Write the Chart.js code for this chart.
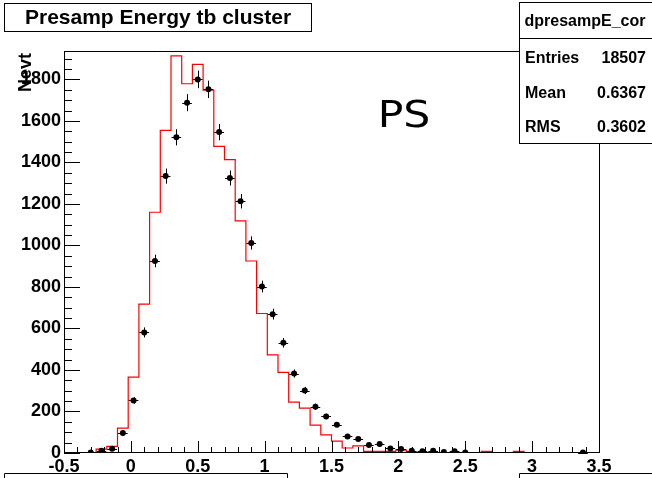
<!DOCTYPE html>
<html>
<head>
<meta charset="utf-8">
<script src="https://cdn.jsdelivr.net/npm/chart.js@4.4.0/dist/chart.umd.min.js"></script>
<style>
  html, body { margin: 0; padding: 0; background: #fff; }
  #wrap { width: 652px; height: 478px; position: relative; }
</style>
</head>
<body>
<div id="wrap"><canvas id="myChart" width="652" height="478"></canvas></div>
<script>
// binning: 50 bins from -0.5 to 3.5
const xMin = -0.5;
const xMax = 3.5;
const binWidth = 0.08;

// red histogram (simulation), one value per bin
const simCounts = [
  0, 0, 0, 19, 32, 120, 366, 717, 1160, 1554,
  1913, 1779, 1872, 1748, 1477, 1413, 1118, 925, 672, 473,
  388, 245, 216, 134, 87, 57, 24, 34, 8, 8,
  8, 14, 3, 2, 2, 2, 2, 2, 2, 8,
  2, 2, 8, 1, 1, 1, 1, 1, 1, 1
];

// black points (data), null = empty bin
const dataCounts = [
  null, null, 3, 11, 21, 96, 253, 581, 925, 1334,
  1521, 1688, 1800, 1752, 1546, 1325, 1213, 1012, 802, 669,
  531, 383, 301, 223, 176, 136, 80, 67, 38, 43,
  22, 19, 11, 8, 11, 5, 8, 3, null, null,
  null, null, null, null, null, null, null, null, 2, null
];

const yMax = 1932;
const xTickStep = 0.5;
const yTickStep = 200;

const titleText = "Presamp Energy tb cluster";
const statsName = "dpresampE_cor";
const statsRows = [["Entries", "18507"], ["Mean", "0.6367"], ["RMS", "0.3602"]];

const boldFont = "bold 18px 'Liberation Sans', Arial, sans-serif";

// build the step line from bin edges
let simLine = [];
for (let i = 0; i < simCounts.length; i++) {
  simLine.push({ x: xMin + i * binWidth, y: simCounts[i] });
}
simLine.push({ x: xMax, y: simCounts[simCounts.length - 1] });

let dataPoints = [];
for (let i = 0; i < dataCounts.length; i++) {
  if (dataCounts[i] !== null) {
    dataPoints.push({ x: xMin + (i + 0.5) * binWidth, y: dataCounts[i] });
  }
}

const rootDecor = {
  id: "rootDecor",
  afterDatasetDraw(chart, args) {
    // error bars, drawn after the red histogram and before the markers
    if (args.index !== 1) return;
    const c = chart.ctx;
    const xs = chart.scales.x;
    const ys = chart.scales.y;
    c.save();
    c.strokeStyle = "#000";
    c.lineWidth = 1;
    dataPoints.forEach((p) => {
      const err = Math.sqrt(p.y);
      const px = xs.getPixelForValue(p.x);
      const py = ys.getPixelForValue(p.y);
      c.beginPath();
      c.moveTo(Math.round(px) + 0.5, ys.getPixelForValue(p.y + err));
      c.lineTo(Math.round(px) + 0.5, Math.min(ys.getPixelForValue(Math.max(p.y - err, 0)), ys.bottom));
      c.moveTo(xs.getPixelForValue(p.x - binWidth * 0.45), Math.round(py) + 0.5);
      c.lineTo(xs.getPixelForValue(p.x + binWidth * 0.45), Math.round(py) + 0.5);
      c.stroke();
    });
    c.restore();
  },
  afterDraw(chart) {
    const c = chart.ctx;
    const a = chart.chartArea;
    const xs = chart.scales.x;
    const ys = chart.scales.y;
    c.save();

    // frame
    c.strokeStyle = "#000";
    c.lineWidth = 1;
    c.strokeRect(Math.round(a.left) + 0.5, Math.round(a.top) - 0.5, Math.round(a.right - a.left), Math.round(a.bottom - a.top));

    // ticks inside the frame
    c.beginPath();
    for (let v = xMin; v <= xMax + 1e-9; v += 0.1) {
      const px = Math.round(xs.getPixelForValue(v)) + 0.5;
      const major = Math.abs(v / xTickStep - Math.round(v / xTickStep)) < 1e-6;
      c.moveTo(px, a.bottom);
      c.lineTo(px, a.bottom - (major ? 12 : 6));
    }
    for (let v = 0; v <= yMax; v += 50) {
      const py = Math.round(ys.getPixelForValue(v)) + 0.5;
      const major = v % yTickStep === 0;
      c.moveTo(a.left, py);
      c.lineTo(a.left + (major ? 16 : 8), py);
    }
    c.stroke();

    // title box
    c.strokeRect(4.5, 3.5, 307, 28);
    c.fillStyle = "#000";
    c.font = "bold 21px 'Liberation Sans', Arial, sans-serif";
    c.textAlign = "center";
    c.textBaseline = "middle";
    c.fillText(titleText, 158, 18);

    // stats box
    c.fillStyle = "#fff";
    c.fillRect(519.5, 2.5, 140, 141);
    c.strokeRect(519.5, 2.5, 140, 141);
    c.beginPath();
    c.moveTo(519.5, 38.5);
    c.lineTo(652, 38.5);
    c.stroke();
    c.fillStyle = "#000";
    c.font = "bold 16px 'Liberation Sans', Arial, sans-serif";
    c.textAlign = "center";
    c.fillText(statsName, 585, 22);
    statsRows.forEach((r, i) => {
      const yy = 59 + i * 34.5;
      c.textAlign = "left";
      c.fillText(r[0], 525, yy);
      c.textAlign = "right";
      c.fillText(r[1], 646, yy);
    });

    // axis title
    c.save();
    c.translate(31, 53);
    c.rotate(-Math.PI / 2);
    c.font = boldFont;
    c.textAlign = "right";
    c.textBaseline = "alphabetic";
    c.fillText("Nevt", 0, 0);
    c.restore();

    // PS label
    c.save();
    c.translate(404, 127);
    c.scale(1.15, 1);
    c.font = "37px 'DejaVu Sans', sans-serif";
    c.textAlign = "center";
    c.textBaseline = "alphabetic";
    c.fillText("PS", 0, 0);
    c.restore();

    // boxes of the pads below
    c.beginPath();
    c.moveTo(4.5, 480);
    c.lineTo(4.5, 473.5);
    c.lineTo(287.5, 473.5);
    c.lineTo(287.5, 480);
    c.moveTo(519.5, 480);
    c.lineTo(519.5, 473.5);
    c.lineTo(652, 473.5);
    c.stroke();

    c.restore();
  },
};

const ctx = document.getElementById("myChart").getContext("2d");
const myChart = new Chart(ctx, {
  type: "line",
  data: {
    datasets: [
      {
        label: "data",
        data: dataPoints,
        showLine: false,
        pointRadius: 3,
        pointHoverRadius: 3,
        pointBackgroundColor: "#000",
        pointBorderColor: "#000",
        pointBorderWidth: 0,
      },
      {
        label: "sim",
        data: simLine,
        stepped: "before",
        borderColor: "rgb(255, 0, 0)",
        borderWidth: 1.2,
        pointRadius: 0,
        fill: false,
      },
    ],
  },
  options: {
    responsive: false,
    animation: false,
    layout: { padding: { top: 52, right: 53, left: 0, bottom: 0 } },
    plugins: { legend: { display: false }, tooltip: { enabled: false }, title: { display: false } },
    scales: {
      x: {
        type: "linear",
        min: xMin,
        max: xMax,
        grid: { display: false, drawTicks: false },
        border: { display: false },
        ticks: {
          stepSize: xTickStep,
          includeBounds: false,
          autoSkip: false,
          maxRotation: 0,
          padding: 3,
          color: "#000",
          font: { family: "'Liberation Sans', Arial, sans-serif", weight: "bold", size: 18 },
          callback: (v) => String(Math.round(v * 10) / 10),
        },
        afterFit: (s) => {
          s.height = 25;
        },
      },
      y: {
        min: 0,
        max: yMax,
        grid: { display: false, drawTicks: false },
        border: { display: false },
        ticks: {
          stepSize: yTickStep,
          includeBounds: false,
          padding: 3,
          color: "#000",
          font: { family: "'Liberation Sans', Arial, sans-serif", weight: "bold", size: 18 },
          callback: (v) => String(v),
        },
        afterFit: (s) => {
          s.width = 64;
        },
      },
    },
  },
  plugins: [rootDecor],
});
</script>
</body>
</html>
